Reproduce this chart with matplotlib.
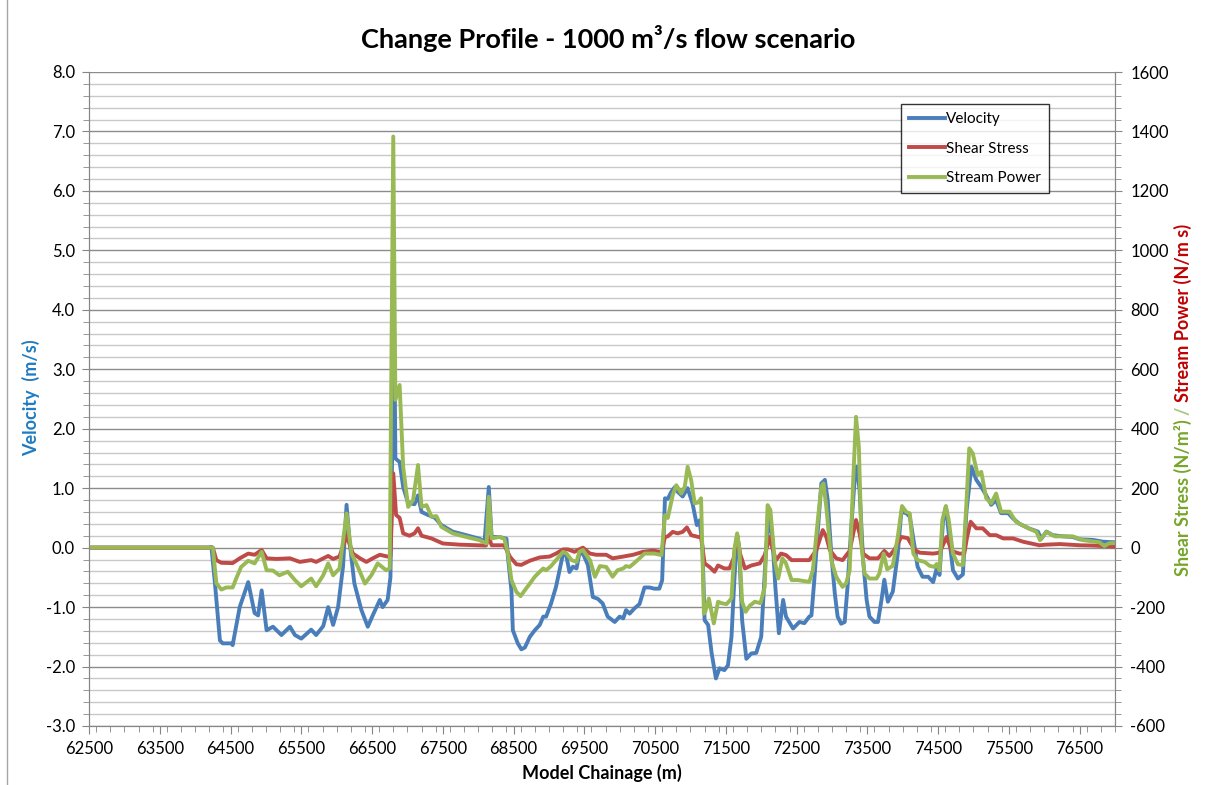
import numpy as np
import matplotlib
matplotlib.use("Agg")
import matplotlib.pyplot as plt
from matplotlib.ticker import MultipleLocator, FixedLocator
from matplotlib.lines import Line2D
from matplotlib.patches import Rectangle

plt.rcParams["font.family"] = ["Lato", "DejaVu Sans"]
plt.rcParams["axes.unicode_minus"] = False

# ------------------------------------------------------------
# Data
# ------------------------------------------------------------
vel_ch = [62500, 64190, 64230, 64280, 64350, 64390, 64520, 64530, 64630, 64750,
          64840, 64890, 64940, 65010, 65100, 65220, 65340, 65410, 65500, 65640,
          65710, 65810, 65880, 65950, 66020, 66090, 66140, 66180, 66250, 66350,
          66440, 66510, 66610, 66650, 66720, 66760, 66800, 66820, 66830, 66890,
          66940, 67010, 67100, 67150, 67200, 67290, 67390, 67480, 67640, 67830,
          68020, 68090, 68150, 68190, 68300, 68400, 68420, 68470, 68490, 68560,
          68610, 68660, 68730, 68800, 68870, 68920, 68960, 69030, 69100, 69200,
          69240, 69290, 69340, 69390, 69430, 69480, 69550, 69620, 69690, 69760,
          69830, 69930, 70000, 70050, 70090, 70140, 70210, 70280, 70350, 70420,
          70490, 70560, 70600, 70640, 70680, 70730, 70780, 70820, 70890, 70960,
          71030, 71090, 71130, 71170, 71200, 71250, 71300, 71360, 71410, 71480,
          71530, 71580, 71620, 71660, 71690, 71730, 71790, 71860, 71930, 72000,
          72070, 72120, 72160, 72200, 72250, 72310, 72350, 72450, 72540, 72610,
          72680, 72710, 72750, 72800, 72850, 72900, 72940, 72990, 73040, 73080,
          73130, 73180, 73220, 73270, 73320, 73350, 73390, 73440, 73490, 73530,
          73600, 73650, 73700, 73740, 73790, 73860, 73930, 73980, 74050, 74100,
          74170, 74210, 74280, 74360, 74430, 74480, 74520, 74570, 74610, 74660,
          74710, 74780, 74850, 74900, 74970, 75040, 75110, 75180, 75250, 75320,
          75390, 75490, 75560, 75650, 75790, 75910, 75960, 76030, 76120, 76260,
          76400, 76500, 76690, 76830, 76990]
velocity = [0.0, 0.0, 0.01, -0.6, -1.56, -1.61, -1.61, -1.64, -1.0, -0.58,
            -1.1, -1.14, -0.72, -1.39, -1.33, -1.47, -1.33, -1.47, -1.53, -1.38,
            -1.47, -1.32, -1.0, -1.3, -1.0, -0.32, 0.72, 0.13, -0.6, -1.05,
            -1.33, -1.14, -0.88, -1.0, -0.88, -0.5, 2.9, 2.85, 1.5, 1.44,
            1.02, 0.75, 0.73, 0.88, 0.6, 0.55, 0.5, 0.38, 0.27, 0.21,
            0.15, 0.1, 1.02, 0.18, 0.18, 0.15, -0.15, -0.72, -1.39, -1.61,
            -1.71, -1.68, -1.5, -1.39, -1.3, -1.16, -1.16, -0.94, -0.66, -0.1,
            -0.1, -0.41, -0.32, -0.35, -0.1, -0.1, -0.29, -0.83, -0.86, -0.94,
            -1.16, -1.25, -1.16, -1.19, -1.05, -1.11, -1.02, -0.95, -0.67, -0.67,
            -0.69, -0.69, -0.55, 0.83, 0.82, 0.94, 1.02, 0.94, 0.86, 1.0,
            0.74, 0.38, 0.46, 0.01, -1.22, -1.3, -1.78, -2.2, -2.03, -2.06,
            -1.98, -1.5, -0.55, 0.21, -0.04, -1.22, -1.87, -1.78, -1.77, -1.5,
            0.0, 0.58, 0.13, -0.66, -1.44, -0.88, -1.16, -1.36, -1.25, -1.27,
            -1.16, -1.14, -0.55, 0.29, 1.08, 1.14, 0.8, -0.1, -0.77, -1.16,
            -1.28, -1.25, -0.66, 0.29, 1.14, 1.36, 0.97, -0.21, -0.88, -1.16,
            -1.25, -1.25, -0.88, -0.54, -0.91, -0.74, -0.1, 0.6, 0.58, 0.52,
            0.0, -0.32, -0.49, -0.49, -0.58, -0.35, -0.46, 0.46, 0.69, 0.13,
            -0.38, -0.52, -0.45, 0.6, 1.36, 1.14, 1.02, 0.88, 0.72, 0.8,
            0.58, 0.58, 0.49, 0.4, 0.32, 0.27, 0.15, 0.27, 0.21, 0.19,
            0.18, 0.14, 0.13, 0.1, 0.09]

shear_ch = [62500, 64190, 64250, 64300, 64370, 64530, 64630, 64750, 64840, 64940,
            65010, 65150, 65340, 65480, 65640, 65710, 65880, 65950, 66040, 66140,
            66230, 66330, 66420, 66510, 66610, 66720, 66760, 66800, 66840, 66890,
            66940, 67030, 67100, 67150, 67200, 67340, 67500, 67740, 68020, 68110,
            68150, 68190, 68370, 68450, 68540, 68610, 68730, 68870, 69010, 69100,
            69200, 69270, 69360, 69480, 69580, 69670, 69810, 69900, 70050, 70190,
            70330, 70470, 70590, 70640, 70680, 70750, 70820, 70890, 70950, 71010,
            71110, 71150, 71200, 71270, 71340, 71390, 71480, 71550, 71610, 71660,
            71700, 71770, 71860, 71980, 72050, 72120, 72160, 72210, 72280, 72350,
            72430, 72540, 72680, 72780, 72870, 72920, 72970, 73060, 73150, 73250,
            73340, 73390, 73440, 73530, 73650, 73740, 73810, 73880, 73980, 74070,
            74170, 74240, 74430, 74520, 74620, 74690, 74800, 74870, 74910, 74960,
            75040, 75130, 75230, 75320, 75420, 75560, 75700, 75930, 76030, 76220,
            76500, 76690, 76990]
shear = [0, 0, 0, -42, -51, -52, -36, -20, -24, -8,
         -36, -38, -36, -48, -42, -48, -28, -38, -30, 40,
         -20, -36, -48, -36, -24, -30, -30, 250, 110, 100,
         48, 40, 48, 65, 40, 31, 14, 10, 8, 7,
         36, 8, 8, -31, -56, -58, -44, -33, -30, -20,
         -6, -6, -14, 0, -20, -24, -24, -36, -30, -24,
         -14, -10, -15, 36, 38, 53, 48, 53, 68, 42,
         36, 36, -53, -65, -81, -60, -70, -70, -36, 42,
         -20, -70, -60, -53, -25, 36, -4, -42, -20, -25,
         -42, -42, -42, -8, 59, 36, -8, -36, -42, -11,
         93, 48, -20, -36, -36, -11, -28, -8, 36, 32,
         -8, -17, -20, -17, 36, -11, -20, -20, 36, 87,
         65, 65, 42, 42, 31, 31, 20, 8, 10, 12,
         8, 7, 3]

power_ch = [62500, 64190, 64250, 64300, 64370, 64440, 64530, 64580, 64650, 64750,
            64840, 64940, 65010, 65100, 65190, 65310, 65410, 65500, 65640, 65710,
            65810, 65880, 65950, 66040, 66140, 66210, 66300, 66400, 66490, 66580,
            66700, 66750, 66800, 66830, 66890, 66940, 67010, 67080, 67150, 67200,
            67270, 67340, 67410, 67480, 67640, 67830, 68020, 68120, 68150, 68190,
            68300, 68370, 68420, 68470, 68540, 68600, 68660, 68730, 68800, 68870,
            68920, 68960, 69030, 69100, 69200, 69250, 69320, 69390, 69430, 69480,
            69580, 69650, 69720, 69810, 69900, 69970, 70050, 70090, 70140, 70210,
            70280, 70350, 70490, 70590, 70640, 70680, 70750, 70800, 70870, 70920,
            70960, 71010, 71060, 71110, 71150, 71190, 71210, 71260, 71330, 71390,
            71440, 71510, 71580, 71620, 71660, 71690, 71730, 71780, 71840, 71910,
            71990, 72050, 72090, 72130, 72190, 72240, 72300, 72350, 72430, 72520,
            72590, 72680, 72730, 72800, 72850, 72880, 72920, 72990, 73060, 73150,
            73200, 73250, 73300, 73340, 73380, 73420, 73460, 73530, 73630, 73670,
            73730, 73780, 73860, 73930, 73990, 74050, 74100, 74150, 74210, 74310,
            74380, 74450, 74480, 74520, 74560, 74610, 74650, 74710, 74780, 74850,
            74900, 74940, 74990, 75060, 75110, 75180, 75250, 75320, 75390, 75510,
            75600, 75750, 75890, 75940, 76030, 76150, 76310, 76400, 76550, 76780,
            76850, 76920, 76990]
power = [0, 0, 0, -120, -141, -134, -134, -104, -65, -44,
         -53, -14, -76, -77, -93, -81, -109, -130, -104, -130,
         -93, -53, -93, -70, 115, -20, -65, -121, -93, -53,
         -76, -70, 1383, 497, 547, 272, 137, 160, 278, 137,
         143, 104, 106, 70, 48, 36, 25, 14, 171, 31,
         36, 30, -20, -109, -149, -163, -143, -121, -98, -81,
         -70, -76, -62, -42, -14, -20, -42, -48, -14, -8,
         -42, -98, -62, -65, -98, -76, -70, -62, -65, -51,
         -36, -20, -20, -25, 109, 100, 177, 210, 182, 205,
         272, 227, 149, 152, 166, -222, -215, -171, -255, -182,
         -187, -190, -171, -8, 48, 0, -182, -216, -195, -182,
         -187, -132, 143, 126, -42, -104, -36, -53, -109, -109,
         -112, -115, -76, 93, 205, 216, 137, -42, -98, -132,
         -120, -76, 227, 440, 339, 0, -87, -104, -104, -87,
         -20, -73, -61, 36, 140, 120, 115, -20, -42, -48,
         -61, -65, -55, -76, 93, 140, 93, -20, -56, -59,
         150, 334, 317, 244, 255, 166, 149, 182, 121, 121,
         87, 68, 53, 25, 53, 38, 38, 38, 25, 18,
         5, 15, 15]

x_ticks = list(range(62500, 77000, 1000))
blue = "#4A7EBB"
red = "#BE4B48"
green = "#98B954"
lw = 2.8

# ------------------------------------------------------------
# Figure
# ------------------------------------------------------------
fig = plt.figure(figsize=(12.05, 7.85), dpi=100)
W, H = 1205, 785
ax = fig.add_axes([89 / W, 1 - 726 / H, (1115 - 89) / W, (726 - 72) / H])
ax2 = ax.twinx()

# chart border
fig.patches.append(Rectangle((7 / W, -0.01), 1.02, 1.02, transform=fig.transFigure,
                             fill=False, edgecolor="#A6A6A6", linewidth=1.0))

ax.set_xlim(62500, 77000)
ax.set_ylim(-3, 8)
ax2.set_ylim(-600, 1600)

ax.xaxis.set_major_locator(FixedLocator(x_ticks))
ax.xaxis.set_minor_locator(MultipleLocator(200))
ax.yaxis.set_major_locator(MultipleLocator(1.0))
ax.yaxis.set_minor_locator(MultipleLocator(0.2))
ax2.yaxis.set_major_locator(MultipleLocator(200))
ax2.yaxis.set_minor_locator(MultipleLocator(40))
ax.yaxis.set_major_formatter(plt.FuncFormatter(lambda v, p: f"{v:.1f}"))

ax.grid(True, which="major", axis="y", color="#8C8C8C", linewidth=1.0)
ax.grid(True, which="minor", axis="y", color="#C8C8C8", linewidth=1.0)
ax.set_axisbelow(True)

for a in (ax, ax2):
    a.spines["top"].set_visible(False)
    for s in ("left", "right", "bottom"):
        a.spines[s].set_color("#868686")
    a.tick_params(which="both", color="#868686", labelsize=12, labelcolor="black")
    a.tick_params(which="major", length=5)
    a.tick_params(which="minor", length=4)

ax.tick_params(axis="x", which="major", length=6, pad=5)
ax.tick_params(axis="y", pad=5)
ax2.tick_params(axis="y", pad=6)

ax.plot(vel_ch, velocity, color=blue, linewidth=lw, solid_joinstyle="round")
ax2.plot(shear_ch, shear, color=red, linewidth=lw, solid_joinstyle="round")
ax2.plot(power_ch, power, color=green, linewidth=lw, solid_joinstyle="round")

handles = [Line2D([], [], color=blue, linewidth=lw),
           Line2D([], [], color=red, linewidth=lw),
           Line2D([], [], color=green, linewidth=lw)]
leg = ax2.legend(handles, ["Velocity", "Shear Stress", "Stream Power"],
                 loc="upper left", bbox_to_anchor=((901 - 89) / (1115 - 89), 1 - (104 - 72) / 654),
                 frameon=True, fancybox=False, edgecolor="black", fontsize=11,
                 handlelength=2.3, handletextpad=0.1, labelspacing=1.0,
                 borderpad=0.55, borderaxespad=0)
leg.get_frame().set_linewidth(1.0)

fig.text(0.505, 1 - 39 / H, "Change Profile - 1000 m\u00b3/s flow scenario",
         ha="center", va="center", fontsize=19.5, fontweight="bold")
fig.text(602 / W, 1 - 773 / H, "Model Chainage (m)", ha="center", va="center",
         fontsize=13, fontweight="bold")
fig.text(31 / W, 1 - 398 / H, "Velocity  (m/s)", ha="center", va="center",
         rotation=90, fontsize=13, fontweight="bold", color="#1F7BC1")

# right axis label in three colours
parts = [("Shear Stress (N/m\u00b2) ", "#76A62A"),
         ("/ ", "#A9C47F"),
         ("Stream Power (N/m s)", "#C00000")]
renderer = fig.canvas.get_renderer()
texts = []
heights = []
for s, c in parts:
    t = fig.text(1183 / W, 0.5, s, rotation=90, ha="center", va="bottom",
                 fontsize=13, fontweight="bold", color=c)
    texts.append(t)
    heights.append(t.get_window_extent(renderer).height)
y0 = (H - 400) - sum(heights) / 2
for t, h in zip(texts, heights):
    t.set_y(y0 / H)
    y0 += h

fig.savefig("out.png", dpi=100)
